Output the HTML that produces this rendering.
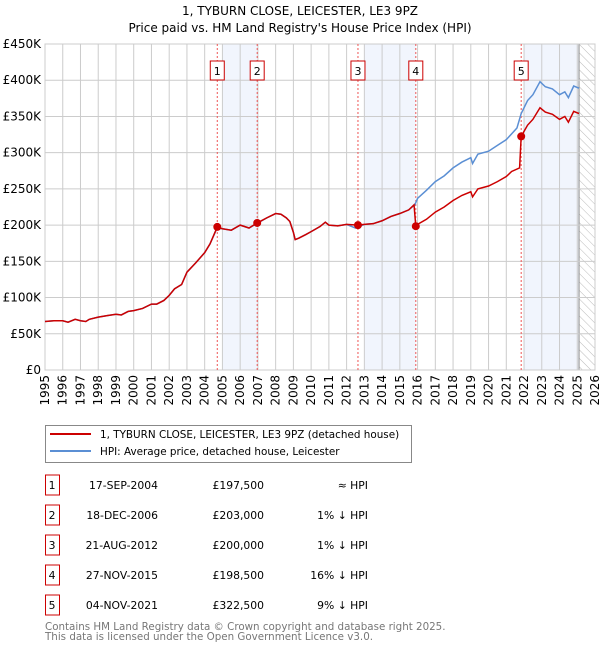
<!DOCTYPE html>
<html><head><meta charset="utf-8"><style>
body{margin:0;background:#fff;width:600px;height:650px;overflow:hidden;font-family:"DejaVu Sans","Liberation Sans",sans-serif}
svg{display:block}
</style></head><body>
<svg id="c" width="600" height="650" xmlns="http://www.w3.org/2000/svg" font-family="DejaVu Sans, Liberation Sans, sans-serif">
<text x="300" y="15" text-anchor="middle" font-size="12">1, TYBURN CLOSE, LEICESTER, LE3 9PZ</text>
<text x="300" y="32" text-anchor="middle" font-size="12">Price paid vs. HM Land Registry's House Price Index (HPI)</text>
<defs><pattern id="hatch" width="6" height="6" patternUnits="userSpaceOnUse" patternTransform="rotate(-45)"><line x1="0" y1="0" x2="0" y2="6" stroke="#bbb" stroke-width="1"/></pattern></defs>
<g id="plot"></g>
<g>
<rect x="45.5" y="425.5" width="366" height="37" fill="#fff" stroke="#888"/>
<line x1="50" y1="434" x2="91" y2="434" stroke="#cc0000" stroke-width="2"/>
<text x="100" y="438" font-size="10.4">1, TYBURN CLOSE, LEICESTER, LE3 9PZ (detached house)</text>
<line x1="50" y1="451" x2="91" y2="451" stroke="#5b8fd4" stroke-width="2"/>
<text x="100" y="455" font-size="10.4">HPI: Average price, detached house, Leicester</text>
</g>
<g id="table" font-size="10.8"></g>
<text x="45" y="630" font-size="10.3" fill="#777">Contains HM Land Registry data © Crown copyright and database right 2025.</text>
<text x="45" y="640" font-size="10.3" fill="#777">This data is licensed under the Open Government Licence v3.0.</text>
</svg>
<script>
const hpiYears=[1995,1995.5,1996,1996.3,1996.7,1997,1997.3,1997.5,1998,1998.5,1999,1999.3,1999.7,2000,2000.5,2001,2001.3,2001.7,2002,2002.3,2002.7,2003,2003.5,2004,2004.3,2004.7,2005,2005.5,2006,2006.5,2007,2007.5,2008,2008.3,2008.6,2008.8,2009,2009.1,2009.3,2009.7,2010,2010.5,2010.8,2011,2011.5,2012,2012.5,2013,2013.5,2014,2014.5,2015,2015.5,2015.85,2016,2016.5,2017,2017.5,2018,2018.5,2019,2019.1,2019.4,2020,2020.5,2021,2021.3,2021.6,2021.84,2022.2,2022.5,2022.9,2023.2,2023.6,2024,2024.3,2024.5,2024.8,2025.1];
const hpiValues=[67,68,68,66,70,68,67,70,73,75,77,76,81,82,85,91,91,96,103,112,118,135,148,162,174,196,195,193,200,196,203,210,216,215,210,205,190,180,182,187,191,198,204,200,199,201,196,201,202,206,212,216,221,228,237,248,260,268,279,287,293,285,298,302,310,318,326,334,354,372,380,398,391,388,380,384,376,392,389];
const redYears=[1995,1995.5,1996,1996.3,1996.7,1997,1997.3,1997.5,1998,1998.5,1999,1999.3,1999.7,2000,2000.5,2001,2001.3,2001.7,2002,2002.3,2002.7,2003,2003.5,2004,2004.3,2004.71,2005,2005.5,2006,2006.5,2006.96,2007.5,2008,2008.3,2008.6,2008.8,2009,2009.1,2009.3,2009.7,2010,2010.5,2010.8,2011,2011.5,2012,2012.64,2013,2013.5,2014,2014.5,2015,2015.5,2015.8,2015.9,2016,2016.5,2017,2017.5,2018,2018.5,2019,2019.1,2019.4,2020,2020.5,2021,2021.3,2021.75,2021.84,2022.2,2022.5,2022.9,2023.2,2023.6,2024,2024.3,2024.5,2024.8,2025.1];
const redValues=[67,68,68,66,70,68,67,70,73,75,77,76,81,82,85,91,91,96,103,112,118,135,148,162,174,197.5,195,193,200,196,203,210,216,215,210,205,190,180,182,187,191,198,204,200,199,201,200,201,202,206,212,216,221,228,198.5,201,208,218,225,234,241,246,239,250,254,260,267,274,279,322.5,338,346,362,356,353,346,350,342,357,354];
const saleLabels=["1","2","3","4","5"];
const saleYears=[2004.71,2006.96,2012.64,2015.9,2021.84];
const salePrices=[197.5,203,200,198.5,322.5];
const saleDates=["17-SEP-2004","18-DEC-2006","21-AUG-2012","27-NOV-2015","04-NOV-2021"];
const salePriceText=["£197,500","£203,000","£200,000","£198,500","£322,500"];
const saleHpiText=["≈ HPI","1% ↓ HPI","1% ↓ HPI","16% ↓ HPI","9% ↓ HPI"];
const shadeStarts=[2005,2013,2022];
const shadeEnds=[2006.96,2015.9,2025.1];
const yTicks=[0,50,100,150,200,250,300,350,400,450];
const yTickLabels=["£0","£50K","£100K","£150K","£200K","£250K","£300K","£350K","£400K","£450K"];
const xTicks=[1995,1996,1997,1998,1999,2000,2001,2002,2003,2004,2005,2006,2007,2008,2009,2010,2011,2012,2013,2014,2015,2016,2017,2018,2019,2020,2021,2022,2023,2024,2025,2026];

const L=45,R=595,T=44,B=370;
const X=y=>L+(y-1995)*(R-L)/31;
const Y=v=>B-v*(B-T)/450;
const NS="http://www.w3.org/2000/svg";
const plot=document.getElementById('plot');
function mk(tag,attrs,parent){const e=document.createElementNS(NS,tag);for(const k in attrs)e.setAttribute(k,attrs[k]);(parent||plot).appendChild(e);return e;}

for(let i=0;i<shadeStarts.length;i++){
 const r=mk('rect',{x:X(shadeStarts[i]),y:T,width:X(shadeEnds[i])-X(shadeStarts[i]),height:B-T,fill:'#eef3fc',opacity:0.8});
 
 
}
const h=mk('rect',{x:X(2025.1),y:T,width:R-X(2025.1),height:B-T,fill:'url(#hatch)'});


mk('line',{x1:X(2025.1),y1:T,x2:X(2025.1),y2:B,stroke:'#888','stroke-width':1});

for(let i=0;i<yTicks.length;i++){
 const g=mk('line',{x1:L,y1:Y(yTicks[i]),x2:R,y2:Y(yTicks[i]),stroke:'#ccc','stroke-width':1});
 
 
 const t=mk('text',{x:L-4,y:Y(yTicks[i])+4,'text-anchor':'end','font-size':12});
 t.textContent=yTickLabels[i];
 
 
}
for(let i=0;i<xTicks.length;i++){
 const g=mk('line',{x1:X(xTicks[i]),y1:T,x2:X(xTicks[i]),y2:B,stroke:'#ccc','stroke-width':1});
 
 
 const t=mk('text',{x:0,y:0,'font-size':12,'text-anchor':'end',transform:`translate(${X(xTicks[i])+4},${B+5}) rotate(-90)`});
 t.textContent=xTicks[i];
 
 
}
mk('rect',{x:L,y:T,width:R-L,height:B-T,fill:'none',stroke:'#ccc'});

for(let i=0;i<saleYears.length;i++){
 const l=mk('line',{x1:X(saleYears[i]),y1:T,x2:X(saleYears[i]),y2:B,stroke:'#e55','stroke-width':1,'stroke-dasharray':'2,2'});
 
 
 const b=mk('rect',{x:X(saleYears[i])-7,y:61,width:14,height:19,fill:'#fff',stroke:'#cc0000'});
 
 
 const t=mk('text',{x:X(saleYears[i]),y:75,'text-anchor':'middle','font-size':11});
 t.textContent=saleLabels[i];
 
 
}
const hp=mk('polyline',{points:hpiYears.map((y,i)=>X(y)+','+Y(hpiValues[i])).join(' '),fill:'none',stroke:'#5b8fd4','stroke-width':1.5});


const rp=mk('polyline',{points:redYears.map((y,i)=>X(y)+','+Y(redValues[i])).join(' '),fill:'none',stroke:'#cc0000','stroke-width':1.5});


for(let i=0;i<saleYears.length;i++){
 const c=mk('circle',{cx:X(saleYears[i]),cy:Y(salePrices[i]),r:4,fill:'#cc0000'});
 
 
}
const tb=document.getElementById('table');
for(let i=0;i<saleLabels.length;i++){
 const cy=485+i*30;
 const b=mk('rect',{x:45.5,y:cy-10,width:14,height:20,fill:'#fff',stroke:'#cc0000'},tb);
 
 
 const cells=[[52,'middle',saleLabels[i],'row-number'],[158,'end',saleDates[i],'row-date'],[264,'end',salePriceText[i],'row-price'],[368,'end',saleHpiText[i],'row-hpi-diff']];
 for(const c of cells){
  const t=mk('text',{x:c[0],y:cy+4,'text-anchor':c[1]},tb);
  t.textContent=c[2];
  
  
 }
}
</script>
</body></html>
